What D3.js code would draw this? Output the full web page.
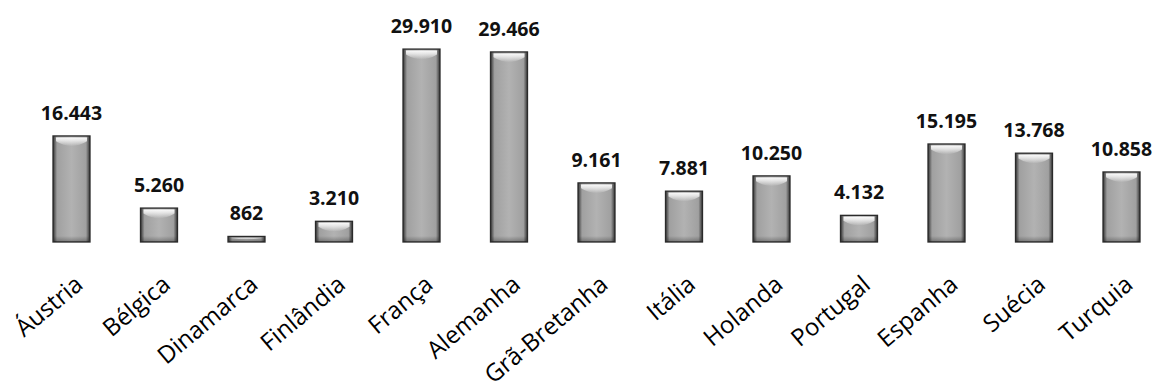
<!DOCTYPE html>
<html>
<head>
<meta charset="utf-8">
<script src="https://cdn.jsdelivr.net/npm/d3@7"></script>
<style>
  html, body { margin: 0; padding: 0; background: #fff; }
  svg { display: block; }
</style>
</head>
<body>
<svg id="chart" width="1163" height="392"></svg>
<script>
// Countries and their values
const countries = ["Áustria", "Bélgica", "Dinamarca", "Finlândia", "França", "Alemanha",
  "Grã-Bretanha", "Itália", "Holanda", "Portugal", "Espanha", "Suécia", "Turquia"];
const values = [16443, 5260, 862, 3210, 29910, 29466, 9161, 7881, 10250, 4132, 15195, 13768, 10858];
const valueLabels = ["16.443", "5.260", "862", "3.210", "29.910", "29.466", "9.161",
  "7.881", "10.250", "4.132", "15.195", "13.768", "10.858"];

const svg = d3.select("#chart");
const barW = 37;
const baseY = 242;

const x = d3.scalePoint().domain(countries).range([71.5, 1121.5]);
const y = d3.scaleLinear().domain([0, 30000]).range([baseY, 48.5]);

const defs = svg.append("defs");
// horizontal body shading: dark rims, mid grey body
const body = defs.append("linearGradient").attr("id", "barBody")
  .attr("x1", "0%").attr("x2", "100%").attr("y1", "0%").attr("y2", "0%");
[[0, "#333333"], [0.05, "#666666"], [0.11, "#a0a0a0"], [0.5, "#b2b2b2"],
 [0.89, "#a0a0a0"], [0.95, "#666666"], [1, "#333333"]]
  .forEach(([o, c]) => body.append("stop").attr("offset", o).attr("stop-color", c));
// top gloss
const gloss = defs.append("linearGradient").attr("id", "barGloss")
  .attr("x1", "0%").attr("x2", "0%").attr("y1", "0%").attr("y2", "100%");
[[0, "#ffffff", 0.95], [0.35, "#f4f4f4", 0.8], [1, "#ffffff", 0]]
  .forEach(([o, c, op]) => gloss.append("stop").attr("offset", o)
    .attr("stop-color", c).attr("stop-opacity", op));
// bottom shade
const shade = defs.append("linearGradient").attr("id", "barShade")
  .attr("x1", "0%").attr("x2", "0%").attr("y1", "0%").attr("y2", "100%");
[[0, "#000", 0], [1, "#000", 0.3]]
  .forEach(([o, c, op]) => shade.append("stop").attr("offset", o)
    .attr("stop-color", c).attr("stop-opacity", op));

const data = countries.map((c, i) => ({ c, v: values[i], label: valueLabels[i] }));

const bars = svg.append("g").selectAll("g").data(data).join("g")
  .attr("transform", d => `translate(${x(d.c) - barW / 2},0)`);

bars.append("rect")
  .attr("x", 0).attr("width", barW)
  .attr("y", d => y(d.v)).attr("height", d => baseY - y(d.v))
  .attr("fill", "url(#barBody)")
  .attr("stroke", "#2a2a2a").attr("stroke-width", 1.3);

// gloss cap with a curved lower edge
bars.append("path")
  .attr("d", d => {
    const t = y(d.v), h = Math.min(12, (baseY - t) * 0.6);
    const x0 = 3, x1 = barW - 3;
    return `M${x0},${t + 1.5} L${x1},${t + 1.5} L${x1},${t + h * 0.45}` +
      ` Q${barW / 2},${t + h * 1.25} ${x0},${t + h * 0.45} Z`;
  })
  .attr("fill", "url(#barGloss)");

// darker foot
bars.append("rect")
  .attr("x", 1).attr("width", barW - 2)
  .attr("y", d => Math.max(y(d.v) + 1, baseY - 6))
  .attr("height", d => baseY - Math.max(y(d.v) + 1, baseY - 6))
  .attr("fill", "url(#barShade)");

// value labels
svg.append("g").selectAll("text").data(data).join("text")
  .attr("x", d => x(d.c))
  .attr("y", d => y(d.v) - 16)
  .attr("text-anchor", "middle")
  .attr("font-family", "'Open Sans', sans-serif")
  .attr("font-weight", 700)
  .attr("font-size", 19.5)
  .attr("fill", "#111")
  .text(d => d.label);

// rotated category labels
svg.append("g").selectAll("text").data(data).join("text")
  .attr("transform", d => `translate(${x(d.c) + 13},${baseY + 45}) rotate(-40)`)
  .attr("text-anchor", "end")
  .attr("font-family", "'Open Sans', sans-serif")
  .attr("font-size", 24)
  .attr("fill", "#000")
  .text(d => d.c);
</script>
</body>
</html>
